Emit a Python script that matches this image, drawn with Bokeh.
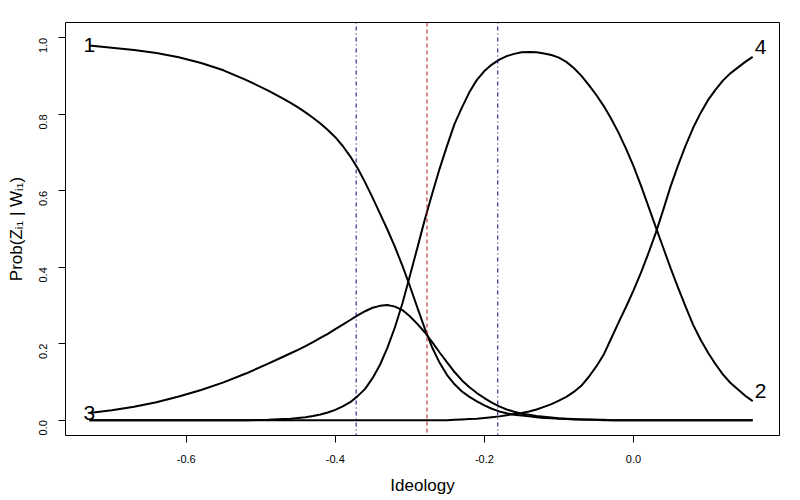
import math
from bokeh.plotting import figure
from bokeh.models import Span, FixedTicker, PrintfTickFormatter, Range1d, ColumnDataSource
from bokeh.core.properties import value
from bokeh.embed import file_html
from bokeh.resources import INLINE

# ---- data ----
ideology = [-0.73, -0.70, -0.67, -0.64, -0.61, -0.58, -0.55, -0.52, -0.49, -0.47,
            -0.46, -0.45, -0.44, -0.43, -0.42, -0.41, -0.40, -0.39, -0.38, -0.37,
            -0.36, -0.35, -0.34, -0.33, -0.32, -0.31, -0.30, -0.29, -0.28, -0.27,
            -0.26, -0.25, -0.24, -0.23, -0.22, -0.21, -0.20, -0.19, -0.18, -0.17,
            -0.16, -0.15, -0.14, -0.13, -0.12, -0.11, -0.10, -0.09, -0.08, -0.07,
            -0.06, -0.05, -0.04, -0.03, -0.02, -0.01,
            0.00, 0.01, 0.02, 0.03, 0.04, 0.05, 0.06, 0.07, 0.08, 0.09,
            0.10, 0.11, 0.12, 0.13, 0.14, 0.15, 0.16]

prob_1 = [0.980, 0.974, 0.968, 0.960, 0.949, 0.934, 0.915, 0.890, 0.862, 0.841,
          0.830, 0.818, 0.805, 0.791, 0.776, 0.759, 0.740, 0.717, 0.690, 0.659,
          0.622, 0.582, 0.540, 0.498, 0.453, 0.404, 0.351, 0.295, 0.240, 0.190,
          0.150, 0.118, 0.094, 0.075, 0.061, 0.049, 0.039, 0.030, 0.023, 0.018,
          0.014, 0.012, 0.010, 0.008, 0.006, 0.005, 0.004, 0.003, 0.002, 0.002,
          0.001, 0.001, 0.000, 0.000, 0.000, 0.000,
          0.000, 0.000, 0.000, 0.000, 0.000, 0.000, 0.000, 0.000, 0.000, 0.000,
          0.000, 0.000, 0.000, 0.000, 0.000, 0.000, 0.000]

prob_2 = [0.000, 0.000, 0.000, 0.000, 0.000, 0.000, 0.000, 0.000, 0.001, 0.003,
          0.004, 0.006, 0.008, 0.011, 0.015, 0.020, 0.027, 0.036, 0.047, 0.063,
          0.082, 0.110, 0.145, 0.190, 0.243, 0.305, 0.377, 0.450, 0.524, 0.592,
          0.658, 0.718, 0.775, 0.818, 0.858, 0.890, 0.913, 0.930, 0.943, 0.952,
          0.958, 0.962, 0.963, 0.962, 0.959, 0.955, 0.948, 0.937, 0.921, 0.901,
          0.877, 0.851, 0.822, 0.789, 0.752, 0.710,
          0.665, 0.614, 0.560, 0.505, 0.451, 0.397, 0.346, 0.297, 0.250, 0.211,
          0.177, 0.147, 0.120, 0.098, 0.081, 0.064, 0.050]

prob_3 = [0.019, 0.026, 0.035, 0.047, 0.062, 0.079, 0.099, 0.122, 0.148, 0.166,
          0.175, 0.184, 0.194, 0.204, 0.215, 0.226, 0.238, 0.250, 0.262, 0.274,
          0.285, 0.294, 0.299, 0.301, 0.297, 0.288, 0.272, 0.252, 0.230, 0.204,
          0.177, 0.151, 0.126, 0.104, 0.086, 0.071, 0.058, 0.046, 0.036, 0.028,
          0.022, 0.017, 0.014, 0.011, 0.009, 0.007, 0.005, 0.004, 0.003, 0.002,
          0.002, 0.001, 0.001, 0.000, 0.000, 0.000,
          0.000, 0.000, 0.000, 0.000, 0.000, 0.000, 0.000, 0.000, 0.000, 0.000,
          0.000, 0.000, 0.000, 0.000, 0.000, 0.000, 0.000]

prob_4 = [0.000, 0.000, 0.000, 0.000, 0.000, 0.000, 0.000, 0.000, 0.000, 0.000,
          0.000, 0.000, 0.000, 0.000, 0.000, 0.000, 0.000, 0.000, 0.000, 0.000,
          0.000, 0.000, 0.000, 0.000, 0.000, 0.000, 0.000, 0.000, 0.000, 0.000,
          0.000, 0.000, 0.001, 0.002, 0.003, 0.004, 0.006, 0.008, 0.010, 0.013,
          0.016, 0.019, 0.023, 0.028, 0.035, 0.042, 0.051, 0.061, 0.074, 0.090,
          0.113, 0.140, 0.171, 0.213, 0.255, 0.296,
          0.339, 0.385, 0.436, 0.490, 0.550, 0.612, 0.667, 0.718, 0.764, 0.803,
          0.837, 0.864, 0.888, 0.907, 0.922, 0.937, 0.950]

for s in (prob_1, prob_2, prob_3, prob_4):
    assert len(s) == len(ideology), len(s)

cut_blue = [-0.372, -0.182]
cut_red = [-0.277]

x_ticks = [-0.6, -0.4, -0.2, 0.0]
y_ticks = [0.0, 0.2, 0.4, 0.6, 0.8, 1.0]

FONT = "Liberation Sans"

p = figure(frame_width=714, frame_height=413, output_backend="svg",
           toolbar_location=None,
           x_range=Range1d(-0.762, 0.196), y_range=Range1d(-0.04, 1.04),
           min_border_left=65, min_border_right=20, min_border_top=22,
           min_border_bottom=40)

p.background_fill_color = "white"
p.border_fill_color = "white"
p.outline_line_color = "black"
p.outline_line_width = 1
p.outline_line_alpha = 1.0
p.xgrid.visible = False
p.ygrid.visible = False

for ax, ticks in ((p.xaxis[0], x_ticks), (p.yaxis[0], y_ticks)):
    ax.ticker = FixedTicker(ticks=ticks)
    ax.formatter = PrintfTickFormatter(format="%.1f")
    ax.axis_line_color = None
    ax.major_tick_out = 7
    ax.major_tick_in = 0
    ax.major_tick_line_color = "black"
    ax.minor_tick_line_color = None
    ax.major_label_text_font = FONT
    ax.major_label_text_font_size = "11px"
    ax.major_label_text_color = "black"
    ax.major_label_text_line_height = 1.0
    ax.axis_label_text_font = FONT
    ax.axis_label_text_font_size = "17px"
    ax.axis_label_text_font_style = "normal"
    ax.axis_label_text_color = "black"
    ax.axis_label_text_line_height = 1.0

p.xaxis[0].axis_label = "Ideology"
p.xaxis[0].major_label_standoff = 12
p.xaxis[0].axis_label_standoff = 10
p.yaxis[0].axis_label = "Prob(Zᵢ₁ | Wᵢ₁)"
p.yaxis[0].major_label_orientation = math.pi / 2
p.yaxis[0].major_label_standoff = 15
p.yaxis[0].axis_label_standoff = 7

for loc in cut_blue:
    p.add_layout(Span(location=loc, dimension="height", line_color="#000070",
                      line_width=1, line_dash="1 3 4 3"))
for loc in cut_red:
    p.add_layout(Span(location=loc, dimension="height", line_color="#b81414",
                      line_width=1, line_dash="4 3"))

for series in (prob_1, prob_2, prob_3, prob_4):
    p.line(ideology, series, line_color="black", line_width=2)

# curve labels at the ends of the curves
left_src = ColumnDataSource(dict(x=[ideology[0], ideology[0]],
                                 y=[prob_1[0], prob_3[0]], t=["1", "3"]))
right_src = ColumnDataSource(dict(x=[ideology[-1], ideology[-1]],
                                  y=[prob_4[-1], prob_2[-1]], t=["4", "2"]))
p.text(x="x", y="y", text="t", source=left_src, text_font=value(FONT),
       text_font_size="21px", text_align="center", text_baseline="middle",
       text_color="black")
p.text(x="x", y="y", text="t", source=right_src, text_font=value(FONT),
       text_font_size="21px", text_align="center", text_baseline="middle",
       text_color="black", x_offset=8, y_offset=-10)

open("out.html", "w").write(file_html(p, INLINE))
